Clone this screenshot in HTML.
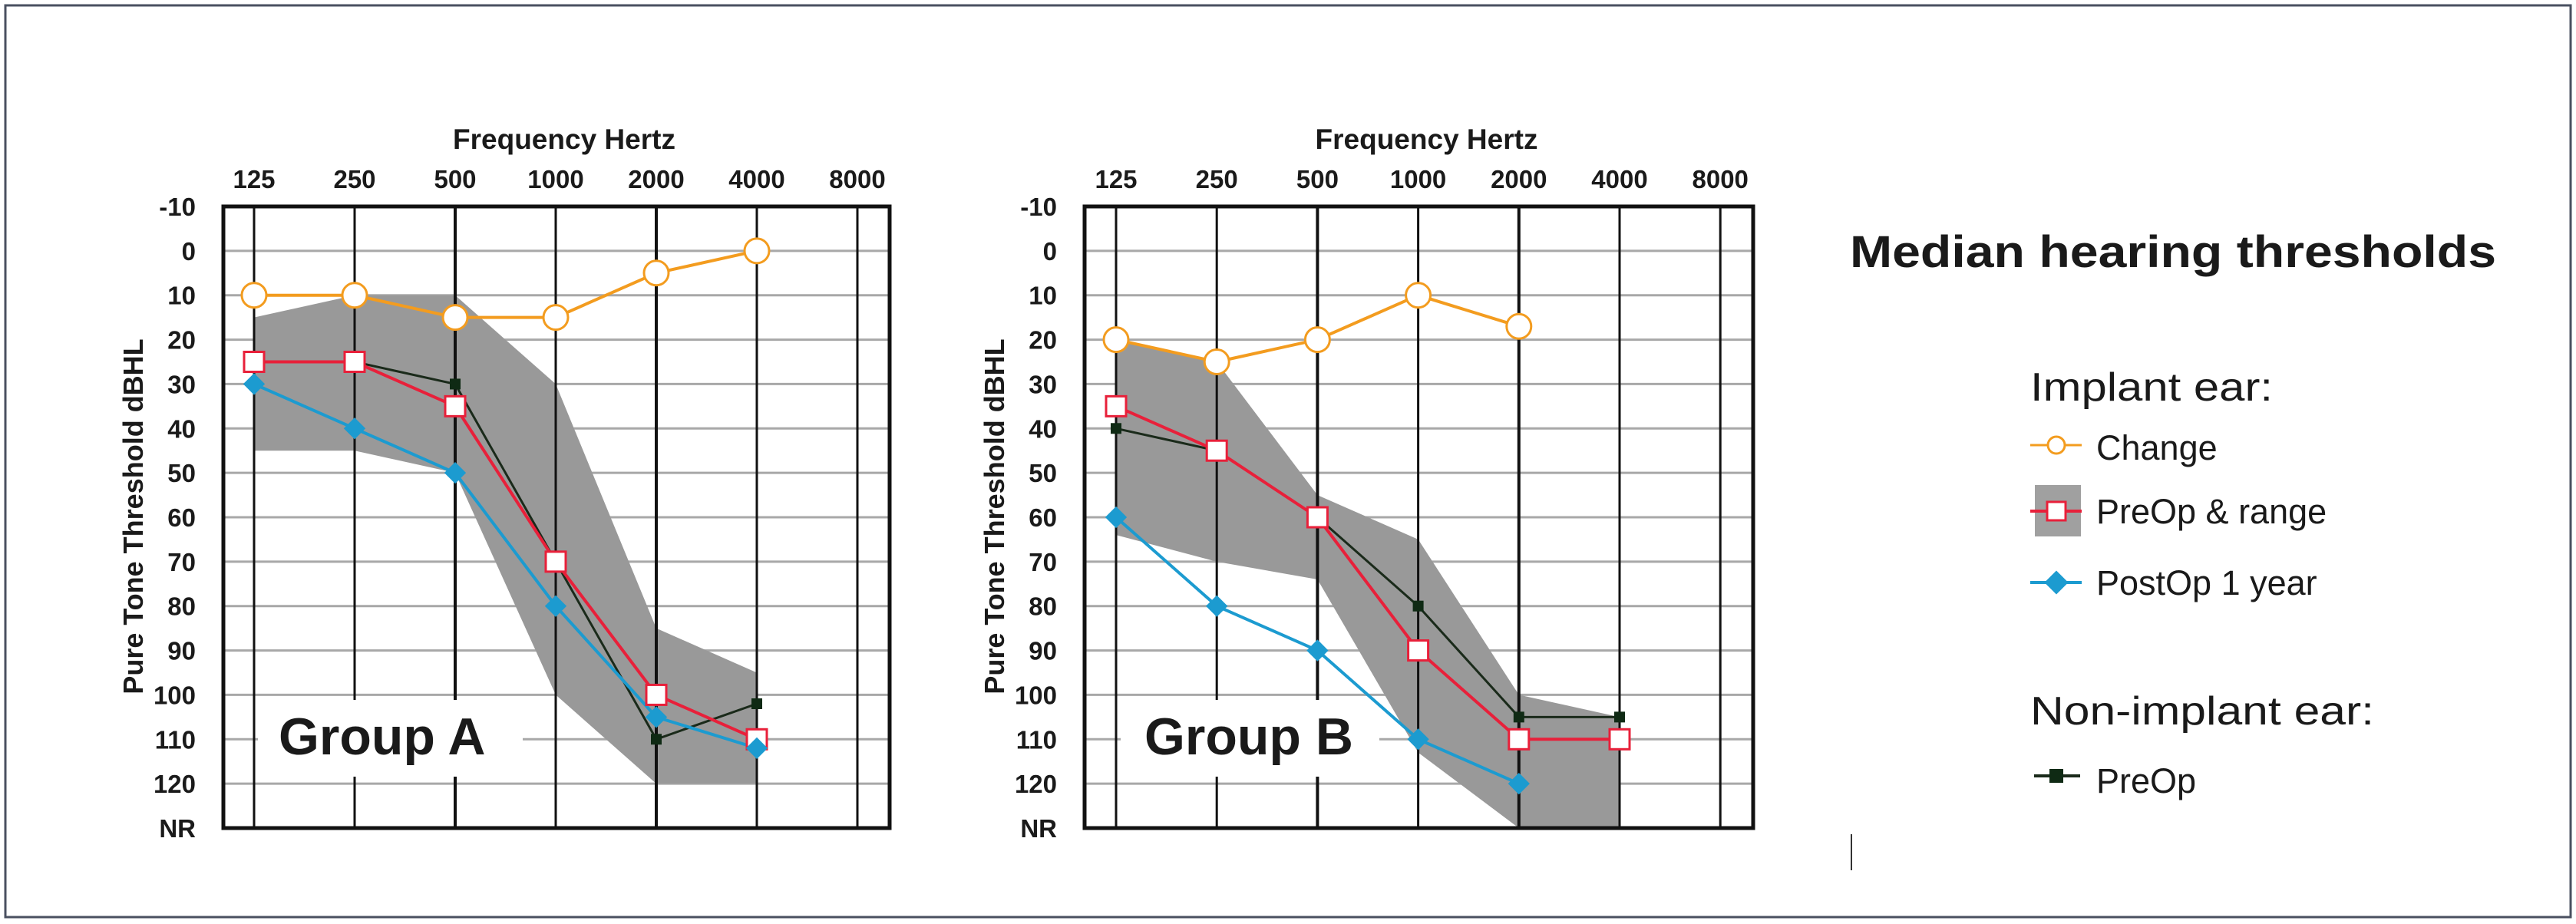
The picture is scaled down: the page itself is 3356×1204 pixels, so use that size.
<!DOCTYPE html>
<html><head><meta charset="utf-8">
<style>
html,body{margin:0;padding:0;background:#fff;}
svg{display:block;font-family:"Liberation Sans",Arial,sans-serif;}
</style></head>
<body>
<svg id="root" width="3356" height="1204" viewBox="0 0 3356 1204" xmlns="http://www.w3.org/2000/svg">
<rect x="7" y="7" width="3342" height="1188" fill="#fff" stroke="#4a5060" stroke-width="3"/>
<g id="chartA"></g>
<g id="chartB"></g>
<g>
  <text x="2410" y="348" font-size="58" font-weight="bold" fill="#1a1a1a" textLength="842" lengthAdjust="spacingAndGlyphs">Median hearing thresholds</text>
  <text x="2645" y="522" font-size="52" fill="#1a1a1a" textLength="316" lengthAdjust="spacingAndGlyphs">Implant ear:</text>
  <g>
    <line x1="2645" y1="580" x2="2712" y2="580" stroke="#f39c1f" stroke-width="3"/>
    <circle cx="2679" cy="580" r="11" fill="#fff" stroke="#f39c1f" stroke-width="3"/>
    <text x="2731" y="599" font-size="45" fill="#1a1a1a">Change</text>
  </g>
  <g>
    <rect x="2651" y="632" width="60" height="67" fill="#a0a0a0"/>
    <line x1="2645" y1="666" x2="2712" y2="666" stroke="#e8203a" stroke-width="4"/>
    <rect x="2667" y="654" width="24" height="24" fill="#fff" stroke="#e8203a" stroke-width="3"/>
    <text x="2731" y="682" font-size="45" fill="#1a1a1a">PreOp &amp; range</text>
  </g>
  <g>
    <line x1="2645" y1="759" x2="2712" y2="759" stroke="#1c9bd0" stroke-width="4"/>
    <rect x="2668" y="748" width="22" height="22" fill="#1c9bd0" transform="rotate(45 2679 759)"/>
    <text x="2731" y="775" font-size="45" fill="#1a1a1a">PostOp 1 year</text>
  </g>
  <text x="2645" y="944" font-size="52" fill="#1a1a1a" textLength="448" lengthAdjust="spacingAndGlyphs">Non-implant ear:</text>
  <g>
    <line x1="2650" y1="1011" x2="2710" y2="1011" stroke="#1a2a1a" stroke-width="4"/>
    <rect x="2670" y="1002" width="18" height="18" fill="#0f2a14"/>
    <text x="2731" y="1033" font-size="45" fill="#1a1a1a">PreOp</text>
  </g>
  <line x1="2412" y1="1087" x2="2412" y2="1134" stroke="#333" stroke-width="2"/>
</g>
</svg>
<script>
const freqLabels = ["125","250","500","1000","2000","4000","8000"];
const yTickLabels = ["-10","0","10","20","30","40","50","60","70","80","90","100","110","120","NR"];
// Group A
const aChange = [10,10,15,15,5,0];
const aPreOp = [25,25,35,70,100,110];
const aPostOp = [30,40,50,80,105,112];
const aNonImplant = [25,25,30,70,110,102];
const aRangeUpper = [15,10,10,30,85,95];
const aRangeLower = [45,45,50,100,120,120];
// Group B
const bChange = [20,25,20,10,17];
const bPreOp = [35,45,60,90,110,110];
const bPostOp = [60,80,90,110,120];
const bNonImplant = [40,45,60,80,105,105];
const bRangeUpper = [20,25,55,65,100,105];
const bRangeLower = [64,70,74,113,130,130];

const NS = "http://www.w3.org/2000/svg";
function mk(parent, tag, attrs){
  const e = document.createElementNS(NS, tag);
  for (const k in attrs) e.setAttribute(k, attrs[k]);
  parent.appendChild(e);
  return e;
}
function drawChart(gid, cfg, d){
  const g = document.getElementById(gid);
  const top = 269, bottom = 1079;
  const xs = i => cfg.x0 + i * cfg.dx;
  const ys = v => top + (v + 10) / 140 * (bottom - top);
  for (let i = 0; i < yTickLabels.length; i++) {
    const v = -10 + i * 10;
    const l = mk(g, "line", {x1: cfg.left, x2: cfg.right, y1: ys(v), y2: ys(v), stroke: "#a8a8a8", "stroke-width": 3});
    
    
    const t = mk(g, "text", {x: cfg.left - 36, y: ys(v) + 12, "font-size": 33, "font-weight": "bold", "text-anchor": "end", fill: "#1a1a1a"});
    t.textContent = yTickLabels[i];
    
    
  }
  let pts = [];
  d.upper.forEach((v, i) => pts.push(xs(i) + "," + ys(v)));
  for (let i = d.lower.length - 1; i >= 0; i--) pts.push(xs(i) + "," + ys(d.lower[i]));
  const band = mk(g, "polygon", {points: pts.join(" "), fill: "#999999"});
  
  
  for (let i = 0; i < freqLabels.length; i++) {
    const l = mk(g, "line", {x1: xs(i), x2: xs(i), y1: top, y2: bottom, stroke: "#111", "stroke-width": (i == 2 || i == 4) ? 4 : 3});
    
    
    const t = mk(g, "text", {x: xs(i), y: 245, "font-size": 33, "font-weight": "bold", "text-anchor": "middle", fill: "#1a1a1a"});
    t.textContent = freqLabels[i];
    
    
  }
  const box = mk(g, "rect", {x: cfg.boxX, y: 912, width: cfg.boxW, height: 100, fill: "#fff"});
  
  
  const gl = mk(g, "text", {x: cfg.labelX, y: 983, "font-size": 68, "font-weight": "bold", fill: "#1a1a1a"});
  gl.textContent = cfg.label;
  
  
  const fr = mk(g, "rect", {x: cfg.left, y: top, width: cfg.right - cfg.left, height: bottom - top, fill: "none", stroke: "#111", "stroke-width": 5});
  
  
  const xt = mk(g, "text", {x: (cfg.left + cfg.right) / 2 + 10, y: 194, "font-size": 37, "font-weight": "bold", "text-anchor": "middle", fill: "#1a1a1a"});
  xt.textContent = "Frequency Hertz";
  
  
  const yt = mk(g, "text", {x: 0, y: 0, "font-size": 36, "font-weight": "bold", "text-anchor": "middle", fill: "#1a1a1a", transform: "translate(" + (cfg.left - 105) + ",673) rotate(-90)"});
  yt.textContent = "Pure Tone Threshold  dBHL";
  
  
  function line(vals, color, w, name){
    const p = mk(g, "polyline", {points: vals.map((v, i) => xs(i) + "," + ys(v)).join(" "), fill: "none", stroke: color, "stroke-width": w, "stroke-linejoin": "round"});
    
    
  }
  line(d.change, "#f39c1f", 4, "change-line");
  line(d.non, "#1a2a1a", 3, "nonimplant-preop-line");
  line(d.pre, "#e8203a", 4, "preop-line");
  line(d.post, "#1c9bd0", 4, "postop-line");
  d.non.forEach((v, i) => {
    const m = mk(g, "rect", {x: xs(i) - 7, y: ys(v) - 7, width: 14, height: 14, fill: "#0f2a14"});
    
    
  });
  d.pre.forEach((v, i) => {
    const m = mk(g, "rect", {x: xs(i) - 13, y: ys(v) - 13, width: 26, height: 26, fill: "#fff", stroke: "#e8203a", "stroke-width": 3});
    
    
  });
  d.post.forEach((v, i) => {
    const m = mk(g, "rect", {x: xs(i) - 10, y: ys(v) - 10, width: 20, height: 20, fill: "#1c9bd0", transform: "rotate(45 " + xs(i) + " " + ys(v) + ")"});
    
    
  });
  d.change.forEach((v, i) => {
    const m = mk(g, "circle", {cx: xs(i), cy: ys(v), r: 16, fill: "#fff", stroke: "#f39c1f", "stroke-width": 3});
    
    
  });
}
drawChart("chartA", {left: 291, right: 1159, x0: 331, dx: 131, label: "Group A", labelX: 363, boxX: 336, boxW: 345},
  {change: aChange, pre: aPreOp, post: aPostOp, non: aNonImplant, upper: aRangeUpper, lower: aRangeLower});
drawChart("chartB", {left: 1413, right: 2284, x0: 1454, dx: 131.2, label: "Group B", labelX: 1491, boxX: 1460, boxW: 337},
  {change: bChange, pre: bPreOp, post: bPostOp, non: bNonImplant, upper: bRangeUpper, lower: bRangeLower});
</script>
</body></html>
